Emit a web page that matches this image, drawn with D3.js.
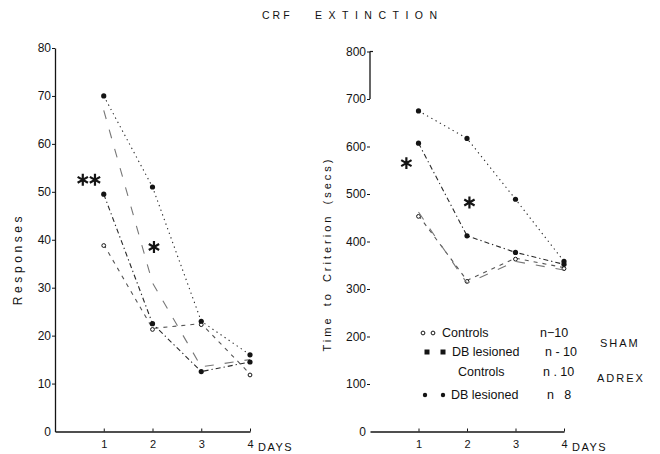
<!DOCTYPE html>
<html><head><meta charset="utf-8">
<script src="https://cdn.jsdelivr.net/npm/d3@7"></script>
<style>
body{margin:0;background:#fff}
text{font-family:"Liberation Sans",Arial,Helvetica,sans-serif;fill:#111}
</style>
</head><body><svg id="c" width="660" height="454"></svg>
<script>
// ---------- data ----------
const days = [1, 2, 3, 4];
const dayTickLabels = ["1", "2", "3", "4"];
const responseTicks = [0, 10, 20, 30, 40, 50, 60, 70, 80];
const timeTicks = [0, 100, 200, 300, 400, 500, 600, 700, 800];

// left panel: Responses
const respShamControls  = [39, 21.5, 22.5, 12];
const respShamDB        = [70, 51, 23, 16];
const respAdrexControls = [67, 31, 13.5, 15];
const respAdrexDB       = [49.5, 22.5, 12.5, 14.5];

// right panel: Time to Criterion (secs)
const timeShamControls  = [455, 318, 365, 345];
const timeShamDB        = [675, 617, 489, 358];
const timeAdrexControls = [462, 312, 358, 340];
const timeAdrexDB       = [607, 412, 377, 352];

// significance marks [day, value]
const respStars = [[0.57, 52.5], [0.82, 52.5], [2.03, 38.5]];
const timeStars = [[0.75, 565], [2.05, 482]];

const legendLabels = ["Controls", "DB lesioned", "Controls", "DB lesioned"];
const legendN = ["n\u221210", "n - 10", "n . 10", "n   8"];
const groupLabels = ["SHAM", "ADREX"];

// ---------- drawing ----------
const svg = d3.select("#c");
const ink = "#141414";

const series = [
  {key: "shamC", dash: "4,5", color: "#555", marker: "open"},
  {key: "shamDB", dash: "1.3,3.6", color: "#2a2a2a", marker: "dot"},
  {key: "adrexC", dash: "9,11", color: "#777", marker: "none"},
  {key: "adrexDB", dash: "5,3,1.3,3", color: "#2a2a2a", marker: "dot"}
];

function panel(opts) {
  const g = svg.append("g");
  const x = d3.scaleLinear().domain([0, 4]).range(opts.xr);
  const y = d3.scaleLinear().domain(opts.yd).range(opts.yr);

  // y axis
  const ya = d3.axisLeft(y).tickValues(opts.yTicks).tickSizeInner(3).tickSizeOuter(0).tickPadding(1);
  const yg = g.append("g").attr("transform", `translate(${opts.xr[0]},0)`).call(ya);
  yg.selectAll("text").style("font-size", "12px").style("fill", ink);
  yg.selectAll("line").attr("stroke", ink);
  if (opts.partialDomain) {
    yg.select(".domain").remove();
    g.append("line").attr("x1", opts.xr[0]).attr("x2", opts.xr[0])
      .attr("y1", y(opts.partialDomain[0])).attr("y2", y(opts.partialDomain[1]))
      .attr("stroke", ink).attr("stroke-width", 1.3);
    g.append("line").attr("x1", opts.xr[0]).attr("x2", opts.xr[0] + 3)
      .attr("y1", y(opts.partialDomain[1])).attr("y2", y(opts.partialDomain[1]))
      .attr("stroke", ink).attr("stroke-width", 1.2);
  } else {
    yg.select(".domain").attr("stroke", ink).attr("stroke-width", 1.3);
  }
  yg.selectAll(".tick").filter(d => d === 0).select("line").remove();

  // x axis
  const xa = d3.axisBottom(x).tickValues(days).tickFormat((d, i) => dayTickLabels[i])
    .tickSizeInner(-3).tickSizeOuter(0).tickPadding(9);
  const xg = g.append("g").attr("transform", `translate(0,${opts.yr[0]})`).call(xa);
  xg.select(".domain").attr("stroke", ink).attr("stroke-width", 1.3);
  xg.selectAll("line").attr("stroke", ink);
  xg.selectAll("text").style("font-size", "11px").style("fill", ink);

  g.append("text").attr("x", x(4) + 8).attr("y", opts.yr[0] + 19)
    .style("font-size", "11px").style("letter-spacing", "1.5px").text("DAYS");

  // y title
  g.append("text").attr("transform", `translate(${opts.titleX},${opts.titleY}) rotate(-90)`)
    .attr("text-anchor", "middle").style("font-size", opts.titleSize)
    .style("letter-spacing", opts.titleSpacing).style("word-spacing", "3px")
    .text(opts.title);

  // lines
  const line = d3.line().x((d, i) => x(days[i])).y(d => y(d));
  opts.data.forEach((vals, k) => {
    const s = series[k];
    g.append("path").datum(vals).attr("d", line).attr("fill", "none")
      .attr("stroke", s.color).attr("stroke-width", 1.1)
      .attr("stroke-dasharray", s.dash);
    if (s.marker === "dot") {
      g.selectAll(null).data(vals).join("circle")
        .attr("cx", (d, i) => x(days[i])).attr("cy", d => y(d)).attr("r", 2.6).attr("fill", ink);
    } else if (s.marker === "open") {
      g.selectAll(null).data(vals).join("circle")
        .attr("cx", (d, i) => x(days[i])).attr("cy", d => y(d) + 1).attr("r", 1.9)
        .attr("fill", "#fff").attr("stroke", ink).attr("stroke-width", 1);
    }
  });

  // stars
  const star = d3.symbol().type(d3.symbolAsterisk).size(100);
  g.selectAll(null).data(opts.stars).join("path")
    .attr("d", star).attr("transform", d => `translate(${x(d[0])},${y(d[1])})`)
    .attr("fill", "none").attr("stroke", ink).attr("stroke-width", 2.2);
  return {x, y};
}

panel({
  xr: [55, 250], yd: [0, 80], yr: [431.5, 48], yTicks: responseTicks,
  data: [respShamControls, respShamDB, respAdrexControls, respAdrexDB],
  stars: respStars, title: "Responses", titleX: 22, titleY: 259,
  titleSize: "12px", titleSpacing: "3.6px"
});

panel({
  xr: [370, 564], yd: [0, 800], yr: [431.5, 51.5], yTicks: timeTicks,
  data: [timeShamControls, timeShamDB, timeAdrexControls, timeAdrexDB],
  stars: timeStars, title: "Time to Criterion (secs)", titleX: 331, titleY: 254,
  titleSize: "11px", titleSpacing: "3px", partialDomain: [700, 800]
});

// title
svg.append("text").attr("x", 262).attr("y", 19).style("font-size", "10.5px")
  .style("letter-spacing", "3px").text("CRF");
svg.append("text").attr("x", 315).attr("y", 19).style("font-size", "10.5px")
  .style("letter-spacing", "6.5px").text("EXTINCTION");

// legend
const legRows = [337, 356, 376, 399];
const legMarkX = [[423, 433], [427, 443], [], [425, 443]];
const legTextX = [442, 452, 458, 451];
const legNX = [540, 545, 543, 547];
const lg = svg.append("g");
legRows.forEach((yy, i) => {
  legMarkX[i].forEach(mx => {
    if (i === 0) {
      lg.append("circle").attr("cx", mx).attr("cy", yy - 4).attr("r", 1.9)
        .attr("fill", "#fff").attr("stroke", ink).attr("stroke-width", 1);
    } else if (i === 1) {
      lg.append("rect").attr("x", mx - 2.5).attr("y", yy - 6.5).attr("width", 5).attr("height", 5).attr("fill", ink);
    } else {
      lg.append("circle").attr("cx", mx).attr("cy", yy - 4).attr("r", 2.2).attr("fill", ink);
    }
  });
  lg.append("text").attr("x", legTextX[i]).attr("y", yy).style("font-size", "12.5px").text(legendLabels[i]);
  lg.append("text").attr("x", legNX[i]).attr("y", yy).style("font-size", "12.5px")
    .style("white-space", "pre").attr("xml:space", "preserve").text(legendN[i]);
});
lg.append("text").attr("x", 600).attr("y", 347).style("font-size", "11px").style("letter-spacing", "2px").text(groupLabels[0]);
lg.append("text").attr("x", 597).attr("y", 382).style("font-size", "11px").style("letter-spacing", "2px").text(groupLabels[1]);
</script>
</body></html>
